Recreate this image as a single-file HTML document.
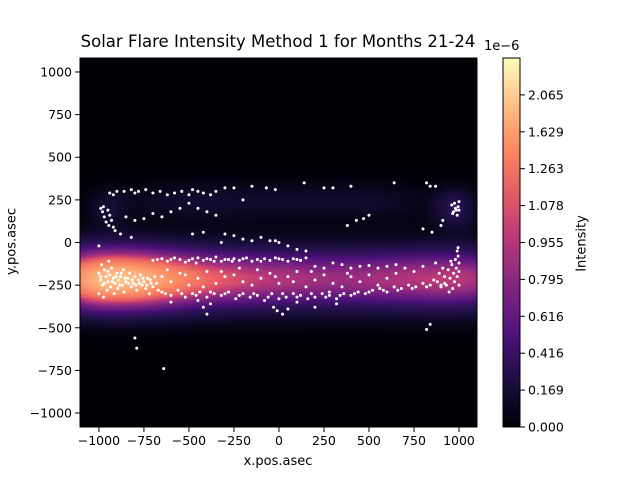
<!DOCTYPE html>
<html><head><meta charset="utf-8"><style>
body{margin:0;background:#fff;}
#wrap{position:relative;width:640px;height:480px;font-family:"DejaVu Sans","Liberation Sans",sans-serif;}
canvas{position:absolute;}
</style></head><body>
<div id="wrap">
<canvas id="heat" width="397" height="369" style="left:80px;top:58px"></canvas>
<svg id="svg" width="640" height="480" style="position:absolute;left:0;top:0"></svg>
</div>
<script>
// density components (units 1e-6)
const bandX=[-1250,-1100,-1000,-850,-700,-550,-400,-250,-100,50,200,350,500,650,800,950,1100,1250];
const bandW=[0.35,0.55,0.72,0.85,0.7,0.55,0.47,0.42,0.39,0.37,0.35,0.33,0.35,0.37,0.39,0.41,0.4,0.3];
const bandY=-215;
const blobX=[-500,0,500,980,-950];
const blobY=[240,240,240,200,200];
const blobW=[0.13,0.1,0.12,0.3,0.15];
const levels=[0,0.169,0.416,0.616,0.795,0.955,1.078,1.263,1.629,2.065,2.3];
const cbTicks=["0.000","0.169","0.416","0.616","0.795","0.955","1.078","1.263","1.629","2.065"];
const xTicks=[-1000,-750,-500,-250,0,250,500,750,1000];
const yTicks=[-1000,-750,-500,-250,0,250,500,750,1000];
const flares=[[-1000,-180],[-990,-220],[-980,-250],[-970,-160],[-960,-200],[-955,-280],[-950,-230],[-940,-190],[-935,-260],[-930,-150],[-920,-210],[-915,-300],[-910,-240],[-900,-180],[-895,-270],[-890,-220],[-880,-200],[-870,-250],[-865,-160],[-860,-290],[-850,-230],[-840,-210],[-830,-180],[-820,-260],[-810,-240],[-800,-200],[-790,-280],[-780,-220],[-770,-190],[-760,-250],[-750,-230],[-740,-270],[-730,-210],[-720,-300],[-710,-240],[-700,-260],[-1000,-300],[-985,-130],[-975,-320],[-945,-110],
[-990,-200],[-970,-240],[-950,-170],[-925,-230],[-905,-200],[-885,-250],[-875,-180],[-855,-210],[-835,-240],[-815,-220],[-795,-250],[-775,-240],[-755,-210],[-735,-250],[-715,-220],[-690,-200],[-680,-240],[-670,-280],
[-700,-105],[-650,-95],[-620,-110],[-580,-90],[-550,-100],[-520,-115],[-480,-95],[-450,-90],[-420,-105],[-380,-100],[-350,-85],[-320,-110],[-280,-100],[-250,-95],[-220,-105],[-180,-90],[-150,-110],[-120,-100],[-80,-95],[-50,-105],[-20,-90],[20,-100],[50,-110],[80,-95],[120,-105],[150,-90],[200,-140],[250,-150],[300,-120],[350,-130],[400,-150],[450,-140],[500,-135],[550,-150],[600,-140],[650,-130],[700,-150],[750,-170],[800,-140],
[-675,-100],[-600,-100],[-500,-105],[-400,-95],[-300,-100],[-200,-95],[-100,-110],[0,-95],[100,-100],[-460,-120],[-360,-110],[-260,-110],
[-650,-200],[-600,-230],[-550,-180],[-500,-250],[-450,-210],[-400,-170],[-350,-240],[-300,-200],[-250,-190],[-200,-230],[-150,-250],[-100,-210],[-50,-180],[0,-240],[50,-200],[100,-170],[150,-260],[200,-220],[250,-190],[300,-240],[350,-260],[400,-200],[450,-230],[500,-190],[550,-250],[600,-210],[650,-180],[-620,-160],[-520,-190],[-420,-260],[-320,-170],[-220,-150],[-120,-160],[-20,-200],[80,-230],[180,-170],[280,-290],[380,-180],
[-650,-290],[-600,-310],[-560,-280],[-520,-320],[-480,-300],[-440,-290],[-400,-320],[-360,-300],[-320,-310],[-280,-290],[-240,-330],[-200,-300],[-160,-320],[-120,-310],[-80,-340],[-40,-300],[0,-330],[40,-320],[80,-300],[120,-310],[160,-330],[200,-320],[240,-300],[280,-310],[320,-330],[360,-300],[400,-310],[440,-290],[480,-300],[520,-280],[560,-270],[600,-290],[640,-260],[680,-270],[720,-250],[760,-260],[800,-240],[840,-250],[880,-230],[920,-240],
[-630,-300],[-540,-300],[-460,-310],[-380,-290],[-300,-300],[-220,-310],[-140,-300],[-60,-320],[20,-300],[100,-320],[180,-300],[260,-320],[340,-310],[420,-300],[500,-290],[580,-280],[660,-280],[740,-270],[820,-260],[900,-250],
[-400,-420],[-420,-380],[-380,-360],[-10,-400],[20,-420],[-30,-380],[-600,-350],[-450,-340],[200,-380],[50,-390],[320,-360],[100,-350],
[990,-50],[995,-80],[1000,-120],[985,-150],[980,-100],[970,-180],[960,-130],[950,-210],[940,-160],[930,-250],[990,-200],[1000,-170],[975,-230],[965,-270],[955,-110],[945,-290],[920,-200],[910,-150],[900,-260],[890,-180],[1000,-250],[995,-30],[870,-120],[860,-220],
[-800,-560],[-790,-620],[-640,-740],[840,-480],[820,-510],[-1000,-20],[-20,10],
[-980,180],[-970,150],[-960,120],[-950,190],[-945,100],[-940,160],[-930,130],[-920,90],[-910,70],[-990,200],[-975,210],
[-940,290],[-920,280],[-900,300],[-860,300],[-820,310],[-800,290],[-780,300],[-740,310],[-700,290],[-660,300],[-620,280],[-580,290],[-540,300],[-500,280],[-480,310],[-450,300],[-420,290],[-380,280],[-350,300],[-300,320],[-250,320],[-200,250],[-150,330],[-70,320],[-20,310],[140,350],[250,320],[300,320],[400,330],[640,350],[820,350],[840,330],[870,330],
[-850,150],[-800,130],[-750,140],[-700,170],[-650,150],[-600,180],[-550,200],[-500,230],[-450,200],[-400,180],[-350,160],[-300,50],[-250,40],[-200,20],[-150,10],[-100,30],[-50,10],[0,0],[50,-20],[100,-40],[150,-50],[-480,50],[-420,60],[-320,0],[-880,50],[-820,30],[380,100],[430,130],[470,140],[500,160],[800,80],[850,60],
[960,220],[970,180],[980,200],[990,160],[1000,240],[985,190],[995,210],[975,230],[965,170],[1000,190],[910,130],[900,100]];

const AX0=80,AX1=477,AY0=58,AY1=427,XMIN=-1105,XMAX=1100,YMIN=-1082,YMAX=1082;
const sx=v=>AX0+(v-XMIN)/(XMAX-XMIN)*(AX1-AX0);
const sy=v=>AY1-(v-YMIN)/(YMAX-YMIN)*(AY1-AY0);
const magma=[[0,0,0,4],[0.13,28,16,68],[0.25,79,18,123],[0.38,129,37,129],[0.5,181,54,122],[0.63,229,89,100],[0.75,251,135,97],[0.88,254,194,135],[1,252,253,191]];
function cmap(t){t=Math.max(0,Math.min(1,t));for(let i=1;i<magma.length;i++){if(t<=magma[i][0]){const a=magma[i-1],b=magma[i],f=(t-a[0])/(b[0]-a[0]);return [a[1]+f*(b[1]-a[1]),a[2]+f*(b[2]-a[2]),a[3]+f*(b[3]-a[3])];}}return magma[magma.length-1].slice(1);}
function frac(v){for(let i=1;i<levels.length;i++){if(v<=levels[i])return (i-1+(v-levels[i-1])/(levels[i]-levels[i-1]))/(levels.length-1);}return 1;}
function density(x,y){let s=0;const gy=Math.exp(-((y-bandY)**2)/(2*118*118));for(let i=0;i<bandX.length;i++)s+=bandW[i]*Math.exp(-((x-bandX[i])**2)/(2*150*150));s*=gy;for(let i=0;i<blobX.length;i++){const sxg=i<3?260:80;s+=blobW[i]*Math.exp(-((x-blobX[i])**2)/(2*sxg*sxg)-((y-blobY[i])**2)/(2*80*80));}return s;}
const cv=document.getElementById('heat'),ctx=cv.getContext('2d'),img=ctx.createImageData(397,369);
for(let py=0;py<369;py++){const y=YMAX-(py+0.5)/369*(YMAX-YMIN);for(let px=0;px<397;px++){const x=XMIN+(px+0.5)/397*(XMAX-XMIN);const c=cmap(frac(density(x,y)));const k=(py*397+px)*4;img.data[k]=c[0];img.data[k+1]=c[1];img.data[k+2]=c[2];img.data[k+3]=255;}}
ctx.putImageData(img,0,0);

const svg=document.getElementById('svg'),NS='http://www.w3.org/2000/svg';
function el(t,a,p){const e=document.createElementNS(NS,t);for(const k in a)e.setAttribute(k,a[k]);(p||svg).appendChild(e);return e;}
const pts=el('g',{});


flares.forEach(p=>{const c=el('circle',{cx:sx(p[0]),cy:sy(p[1]),r:1.5,fill:'#fff'},pts);

});
const frame=el('rect',{x:AX0,y:AY0,width:AX1-AX0,height:AY1-AY0,fill:'none',stroke:'#000','stroke-width':1});


xTicks.forEach(v=>{const x=sx(v);el('line',{x1:x,x2:x,y1:AY1,y2:AY1+5,stroke:'#000'});const t=el('text',{x:x,y:AY1+18,'text-anchor':'middle','font-size':12.5});t.textContent=String(v).replace('-','−');

});
yTicks.forEach(v=>{const y=sy(v);el('line',{x1:AX0-5,x2:AX0,y1:y,y2:y,stroke:'#000'});const t=el('text',{x:AX0-8,y:y+4.5,'text-anchor':'end','font-size':12.5});t.textContent=String(v).replace('-','−');

});
// colorbar
const CB0=503,CB1=520,CBT=58,CBB=427;
const defs=el('defs',{});const g=el('linearGradient',{id:'cbg',x1:0,y1:1,x2:0,y2:0},defs);
for(let i=0;i<=20;i++){const c=cmap(i/20);el('stop',{offset:i/20,'stop-color':`rgb(${c.map(Math.round).join(',')})`},g);}
const cb=el('rect',{x:CB0,y:CBT,width:CB1-CB0,height:CBB-CBT,fill:'url(#cbg)',stroke:'#000','stroke-width':1});


cbTicks.forEach((s,i)=>{const y=CBB-i*(CBB-CBT)/(levels.length-1);el('line',{x1:CB1,x2:CB1+5,y1:y,y2:y,stroke:'#000'});const t=el('text',{x:CB1+8,y:y+4.5,'font-size':12.5});t.textContent=s;

});
</script>
<div style="position:absolute;left:0;top:0;width:640px;height:480px;font-family:'DejaVu Sans','Liberation Sans',sans-serif;pointer-events:none">
<div style="position:absolute;left:68px;width:420px;top:32px;text-align:center;font-size:16.5px;white-space:nowrap">Solar Flare Intensity Method 1 for Months 21-24</div>
<div style="position:absolute;left:178px;width:200px;top:454px;text-align:center;font-size:13px">x.pos.asec</div>
<div style="position:absolute;left:-88px;width:200px;top:234px;text-align:center;font-size:13px;transform:rotate(-90deg)">y.pos.asec</div>
<div style="position:absolute;left:482px;width:200px;top:236px;text-align:center;font-size:13px;transform:rotate(-90deg)">Intensity</div>
<div style="position:absolute;left:484px;top:39px;font-size:13px">1e−6</div>
</div>
</body></html>
